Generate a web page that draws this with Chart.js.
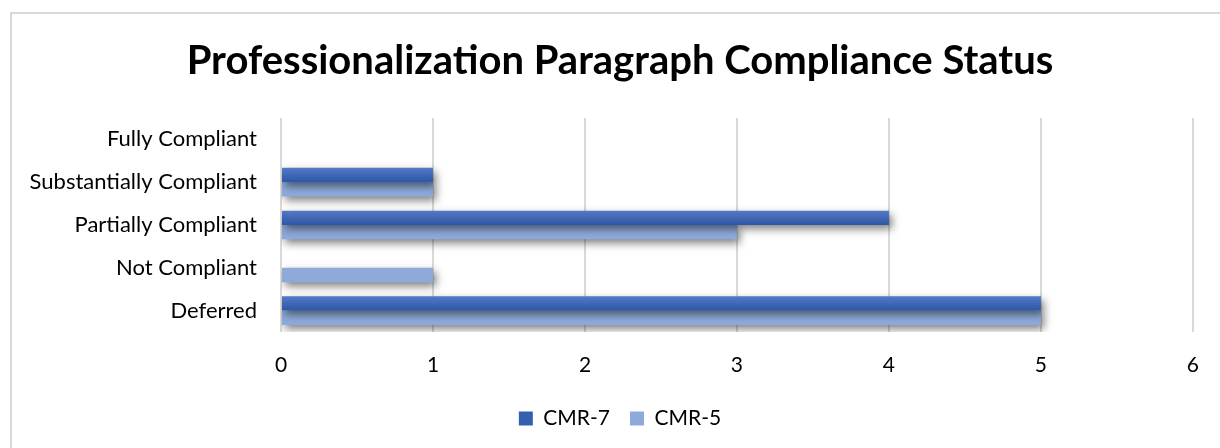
<!DOCTYPE html>
<html>
<head>
<meta charset="utf-8">
<script src="https://cdn.jsdelivr.net/npm/chart.js@4"></script>
<style>
  html, body { margin: 0; padding: 0; background: #fff; }
  #wrap { position: relative; width: 1220px; height: 448px; overflow: hidden; }
  #frame { position: absolute; left: 10px; top: 12px; width: 1300px; height: 500px;
           border-left: 2px solid #d9d9d9; border-top: 2px solid #d9d9d9; }
  canvas { position: absolute; left: 0; top: 0; }
</style>
</head>
<body>
<div id="wrap">
  <div id="frame"></div>
  <canvas id="chart" width="1220" height="448"></canvas>
</div>
<script>
// --------------- Data ---------------
const CATEGORIES = ['Fully Compliant', 'Substantially Compliant', 'Partially Compliant', 'Not Compliant', 'Deferred'];
const CMR7 = [0, 1, 4, 0, 5];
const CMR5 = [0, 1, 3, 1, 5];
const X_TICKS = [0, 1, 2, 3, 4, 5, 6];

const FONT = "Lato, 'Open Sans', sans-serif";

// gradient for the dark series, per bar (top lighter, bottom darker)
function darkFill(ctx) {
  const chart = ctx.chart;
  const y = chart.scales && chart.scales.y;
  if (!y || ctx.dataIndex == null) return '#3b64b4';
  const c = y.getPixelForValue(ctx.dataIndex);
  const band = y.height / CATEGORIES.length;
  const top = c - band * 0.335;
  const g = chart.ctx.createLinearGradient(0, top, 0, c);
  g.addColorStop(0, '#5479c6');
  g.addColorStop(1, '#2d56a5');
  return g;
}

// soft drop shadow under the bars
const barShadow = {
  id: 'barShadow',
  beforeDatasetDraw(chart) {
    const c = chart.ctx;
    c.save();
    c.shadowColor = 'rgba(0,0,0,0.5)';
    c.shadowBlur = 8;
    c.shadowOffsetX = 3;
    c.shadowOffsetY = 4;
  },
  afterDatasetDraw(chart) {
    chart.ctx.restore();
  },
};

new Chart(document.getElementById('chart'), {
  type: 'bar',
  data: {
    labels: CATEGORIES,
    datasets: [
      { label: 'CMR-7', data: CMR7, backgroundColor: darkFill, borderWidth: 0 },
      { label: 'CMR-5', data: CMR5, backgroundColor: '#8eaadb', borderWidth: 0 },
    ],
  },
  options: {
    indexAxis: 'y',
    responsive: false,
    animation: false,
    layout: { padding: { left: 46, right: 26, top: 0, bottom: 9 } },
    datasets: { bar: { categoryPercentage: 0.67, barPercentage: 1.0 } },
    plugins: {
      title: {
        display: true,
        text: 'Professionalization Paragraph Compliance Status',
        color: '#000',
        font: { family: FONT, size: 40, weight: 'bold' },
        padding: { top: 37, bottom: 33 },
      },
      legend: {
        position: 'bottom',
        labels: {
          color: '#000',
          font: { family: FONT, size: 21 },
          boxWidth: 14,
          boxHeight: 14,
          padding: 20,
          generateLabels: chart => chart.data.datasets.map((d, i) => ({
            text: d.label,
            fillStyle: i === 0 ? '#3560b0' : '#8eaadb',
            strokeStyle: 'transparent',
            lineWidth: 0,
            datasetIndex: i,
            fontColor: '#000',
          })),
        },
      },
      tooltip: { enabled: false },
    },
    scales: {
      x: {
        min: 0,
        max: 6,
        afterBuildTicks: s => { s.ticks = X_TICKS.map(v => ({ value: v })); },
        afterFit: s => { s.height = 56; },
        grid: { color: '#d9d9d9', lineWidth: 2, drawTicks: false },
        border: { display: false },
        ticks: { color: '#000', padding: 21, font: { family: FONT, size: 21 } },
      },
      y: {
        afterFit: s => {
          s.width = 235;
          // long labels run into the left padding; don't clip them
          s._computeLabelArea = () => undefined;
        },
        grid: { display: false },
        border: { display: false },
        ticks: { color: '#000', padding: 16, font: { family: FONT, size: 22 } },
      },
    },
  },
  plugins: [barShadow],
});
</script>
</body>
</html>
